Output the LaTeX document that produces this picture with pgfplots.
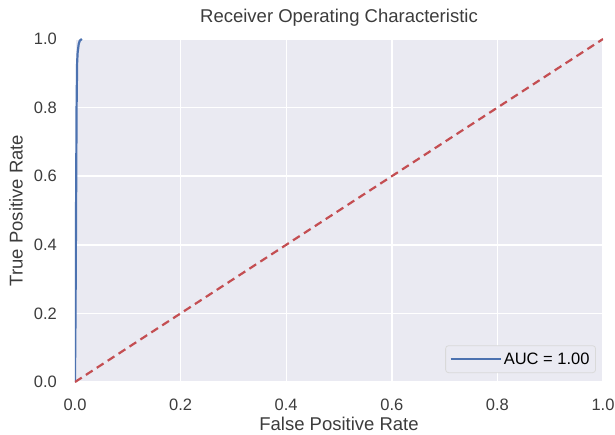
\documentclass[border=0pt]{standalone}
\usepackage{pgfplots}
\pgfplotsset{compat=1.18}
\usetikzlibrary{calc}
\usepackage{fontspec}
\setmainfont{Liberation Sans}
\definecolor{sbbg}{HTML}{EAEAF2}
\definecolor{sbblue}{HTML}{4C72B0}
\definecolor{sbred}{HTML}{C44E52}
\definecolor{sbtext}{HTML}{262626}
\begin{document}
\begin{tikzpicture}
\begin{axis}[
  scale only axis,
  width=528pt, height=343pt,
  xmin=0, xmax=1, ymin=0, ymax=1,
  xtick={0,0.2,0.4,0.6,0.8,1.0},
  ytick={0,0.2,0.4,0.6,0.8,1.0},
  /pgf/number format/.cd, fixed, fixed zerofill, precision=1, assume math mode=true,
  /pgfplots/.cd,
  axis background/.style={fill=sbbg},
  axis line style={draw=none},
  major tick length=0pt,
  grid=major,
  major grid style={white, line width=1.4pt},
  ticklabel style={font=\fontsize{16.5}{18}\selectfont, text=sbtext!90, inner sep=0pt},
  xticklabel style={anchor=north, yshift=-17pt},
  yticklabel style={anchor=east, xshift=-18pt},
  xlabel={False Positive Rate},
  ylabel={True Positive Rate},
  label style={font=\fontsize{18.5}{20}\selectfont, text=sbtext!90, inner sep=0pt},
  xlabel style={at={(rel axis cs:0.5,0)}, anchor=base, yshift=-48pt},
  ylabel style={at={(rel axis cs:0,0.5)}, anchor=south, yshift=52pt},
  title={Receiver Operating Characteristic},
  title style={font=\fontsize{18.5}{20}\selectfont, text=sbtext!90, inner sep=0pt, at={(rel axis cs:0.5,1)}, anchor=base, yshift=10pt},
  legend style={font=\fontsize{16.5}{18}\selectfont, fill=sbbg, draw=black!15, line width=0.8pt, rounded corners=3pt, at={(0.9867,0.026)}, anchor=south east, inner xsep=4pt, inner ysep=5pt},
  legend cell align=left,
  legend image post style={line width=2.2pt},
  legend image code/.code={\path (0pt,0pt) -- (50pt,0pt); \draw[#1] (3pt,0pt) -- (40pt,0pt);},
  clip=true,
]
\coordinate (sw) at (rel axis cs:0,0);
\coordinate (ne) at (rel axis cs:1,1);
\addplot[sbblue, line width=2.2pt] coordinates {
  (0,0) (0,0.02) (0.001,0.2) (0.002,0.5) (0.003,0.8) (0.004,0.93) (0.005,0.96) (0.007,0.985) (0.009,0.995) (0.013,1.0)
};
\addlegendentry{AUC = 1.00}
\addplot[sbred, line width=2.2pt, dash pattern=on 8pt off 5pt, forget plot] coordinates {(0,0) (1,1)};
\end{axis}
\pgfresetboundingbox
\path ($(sw)+(-75pt,-52pt)$) rectangle ($(ne)+(12pt,39pt)$);
\end{tikzpicture}
\end{document}
